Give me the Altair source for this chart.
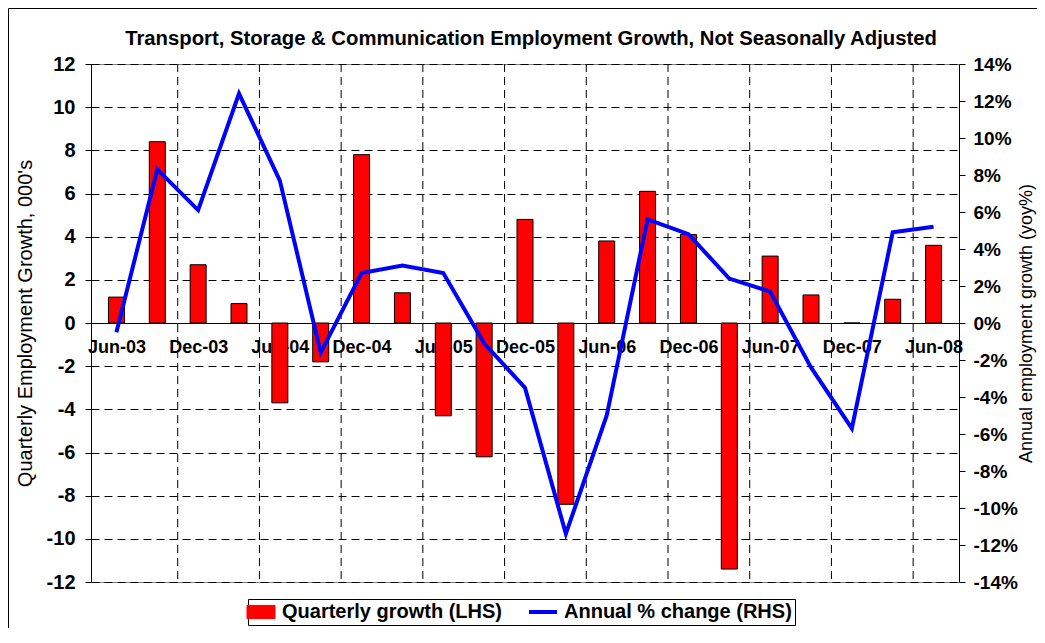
import altair as alt
import pandas as pd

quarters = ["Jun-03", "Sep-03", "Dec-03", "Mar-04", "Jun-04", "Sep-04", "Dec-04",
            "Mar-05", "Jun-05", "Sep-05", "Dec-05", "Mar-06", "Jun-06", "Sep-06",
            "Dec-06", "Mar-07", "Jun-07", "Sep-07", "Dec-07", "Mar-08", "Jun-08"]
quarterly_growth = [1.2, 8.4, 2.7, 0.9, -3.7, -1.8, 7.8, 1.4, -4.3, -6.2, 4.8,
                    -8.4, 3.8, 6.1, 4.1, -11.4, 3.1, 1.3, 0.0, 1.1, 3.6]
annual_change = [-0.5, 8.3, 6.1, 12.4, 7.7, -1.6, 2.7, 3.1, 2.7, -1.1, -3.5,
                 -11.4, -5.0, 5.6, 4.8, 2.4, 1.7, -2.4, -5.7, 4.9, 5.2]
bar_name = "Quarterly growth (LHS)"
line_name = "Annual % change (RHS)"
left_ticks = list(range(-12, 13, 2))
right_ticks = list(range(-14, 15, 2))

n = len(quarters)
df_bar = pd.DataFrame({"idx": list(range(n)), "quarter": quarters,
                       "value": quarterly_growth, "series": bar_name})
df_line = pd.DataFrame({"idx": list(range(n)), "quarter": quarters,
                        "value": annual_change, "series": line_name})
df_grid = pd.DataFrame({"b": [i - 0.5 for i in range(2, n, 2)]})

FONT = "Liberation Sans"
W, H = 868, 518

label_expr = "[" + ",".join("'%s'" % q for q in quarters) + "][datum.value]"
x_scale = alt.Scale(domain=[-0.5, n - 0.5], nice=False, zero=False)
x_axis = alt.Axis(values=list(range(0, n, 2)), labelExpr=label_expr, title=None,
                  grid=False, ticks=False, domain=True, domainColor="black",
                  domainWidth=1, offset=-H / 2, labelFont=FONT, labelFontSize=18,
                  labelFontWeight="bold", labelColor="black", labelPadding=15,
                  labelAngle=0, labelFlush=False, labelOverlap=False)

left_axis = alt.Axis(orient="left", values=left_ticks, labelExpr="datum.value + ''",
                     title="Quarterly Employment Growth, 000's", grid=True,
                     gridColor="black", gridDash=[8, 5], gridWidth=1,
                     domainColor="black", tickColor="black", tickSize=6,
                     labelPadding=10, labelFont=FONT, labelFontSize=20,
                     labelFontWeight="bold", labelColor="black",
                     titleFont=FONT, titleFontSize=20, titleFontWeight="normal",
                     titleColor="black", titlePadding=11)
right_axis = alt.Axis(orient="right", values=right_ticks, labelExpr="datum.value + '%'",
                      title="Annual employment growth (yoy%)", grid=False,
                      domainColor="black", tickColor="black", tickSize=6,
                      labelPadding=8, labelFont=FONT, labelFontSize=19,
                      labelFontWeight="bold", labelColor="black",
                      titleFont=FONT, titleFontSize=18, titleFontWeight="normal",
                      titleColor="black", titlePadding=0, titleAngle=270,
                      titleBaseline="top")

is_bar = "datum.value === '%s'" % bar_name
legend = alt.Legend(title=None, orient="none", direction="horizontal",
                    legendX=157, legendY=535, strokeColor="black", padding=3,
                    fillColor="white", labelFont=FONT, labelFontSize=20,
                    labelFontWeight="bold", labelColor="black", labelLimit=500,
                    symbolSize=784, columnPadding=18, labelOffset=11,
                    symbolType={"expr": "%s ? 'M-1,-0.47H1V0.47H-1Z' : 'M-1,0H1'" % is_bar},
                    symbolFillColor={"expr": "%s ? '#ff0000' : 'transparent'" % is_bar},
                    symbolStrokeColor={"expr": "%s ? 'black' : '#0000ff'" % is_bar},
                    symbolStrokeWidth={"expr": "%s ? 1 : 4" % is_bar})
color = alt.Color("series:N", scale=alt.Scale(domain=[bar_name, line_name],
                                              range=["#ff0000", "#0000ff"]),
                  legend=legend)

frame = alt.Chart(pd.DataFrame({"a": [0]})).mark_rect(
    fillOpacity=0, stroke="black", strokeWidth=1).encode(
    x=alt.value(-82.5), x2=alt.value(W + 300), y=alt.value(-55.5), y2=alt.value(H + 300))

grid = alt.Chart(df_grid).mark_rule(color="black", strokeDash=[8, 5], strokeWidth=1).encode(
    x=alt.X("b:Q", scale=x_scale, axis=x_axis))

bars = alt.Chart(df_bar).mark_bar(size=16, stroke="black", strokeWidth=1).encode(
    x=alt.X("idx:Q", scale=x_scale, axis=x_axis),
    y=alt.Y("value:Q", scale=alt.Scale(domain=[-12, 12], nice=False), axis=left_axis),
    color=color)

line = alt.Chart(df_line).mark_line(strokeWidth=4).encode(
    x=alt.X("idx:Q", scale=x_scale, axis=x_axis),
    y=alt.Y("value:Q", scale=alt.Scale(domain=[-14, 14], nice=False), axis=right_axis),
    color=color)

chart = alt.layer(frame, grid, bars, line).resolve_scale(y="independent").properties(
    width=W, height=H,
    title=alt.TitleParams(
        text="Transport, Storage & Communication Employment Growth, Not Seasonally Adjusted",
        font=FONT, fontSize=20.3, fontWeight="bold", color="black", anchor="middle",
        frame="group", baseline="alphabetic", offset=0, dx=6, dy=57),
    autosize=alt.AutoSizeParams(type="none"),
    padding={"left": 83, "top": 56, "right": 78, "bottom": 46},
    background="white",
).configure_view(stroke="#808080", strokeWidth=1)

chart.save("out.html", embed_options={"renderer": "svg", "actions": False})
